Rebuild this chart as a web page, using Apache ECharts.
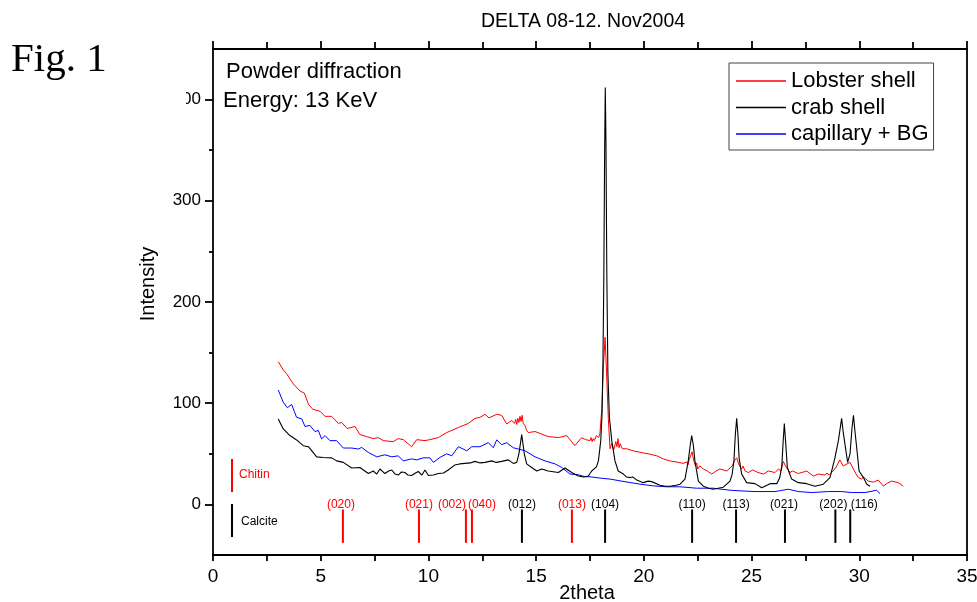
<!DOCTYPE html>
<html>
<head>
<meta charset="utf-8">
<script src="https://cdn.jsdelivr.net/npm/echarts@6/dist/echarts.min.js"></script>
<style>
html,body{margin:0;padding:0;background:#fff;}
#chart{width:977px;height:602px;}
</style>
</head>
<body>
<div id="chart"></div>
<script>
// ---------- data ----------
var seriesNames = ['Lobster shell', 'crab shell', 'capillary + BG'];

var lobster = [[3.03,141],[3.26,133],[3.42,129],[3.73,119],[4.04,112],[4.24,110],[4.43,99],[4.63,94],[4.97,92],[5.2,87],[5.51,87],[5.82,80],[5.97,81],[6.23,75],[6.59,77],[6.82,69],[7.13,67],[7.44,65],[7.67,66],[7.9,63],[8.37,62],[8.6,65],[8.83,64],[9.22,57],[9.46,64],[9.84,63],[10.07,64],[10.46,66],[10.85,71],[11.39,76],[11.85,80],[12.16,85],[12.39,86],[12.63,89],[12.81,85.5],[13.17,89],[13.4,88],[13.63,79.5],[13.87,83],[14.0,80],[14.05,84],[14.1,79],[14.15,85],[14.2,81],[14.25,87],[14.3,82],[14.35,88],[14.4,80],[14.48,78],[14.56,73],[14.64,71],[14.95,72],[15.26,69.5],[15.56,67],[16.03,66],[16.42,68],[16.8,58],[17.11,66],[17.3,64],[17.5,63],[17.55,66],[17.6,62],[17.65,65],[17.7,63],[17.8,68],[17.9,66],[17.96,70],[18.05,95],[18.12,135],[18.2,165],[18.27,130],[18.35,85],[18.43,55],[18.5,60],[18.6,54],[18.7,62],[18.75,57],[18.8,65],[18.85,56],[18.9,60],[19.0,55],[19.2,55],[19.5,53],[19.82,51.5],[20.2,50],[20.6,48],[20.9,45],[21.2,43],[21.5,42],[21.83,40.5],[22.0,42],[22.05,39],[22.1,44],[22.24,52],[22.3,45],[22.35,41],[22.4,38],[22.45,41],[22.5,35],[22.6,38],[22.76,35],[22.95,33],[23.15,30],[23.35,33],[23.53,35],[23.85,33],[24.0,36],[24.1,38],[24.2,43],[24.31,46],[24.4,40],[24.47,37],[24.54,35],[24.6,38],[24.7,33],[24.85,31.5],[25.05,34],[25.3,31.5],[25.55,30],[25.78,33],[26.09,31.5],[26.25,35],[26.35,33],[26.47,42.5],[26.6,37],[26.7,34],[26.78,31.5],[26.9,33],[27.17,30.5],[27.4,32],[27.56,33],[27.87,28],[28.1,30],[28.41,29],[28.5,31],[28.6,29],[28.72,31.5],[28.9,36],[29.1,44],[29.25,38],[29.33,36.5],[29.57,41.5],[29.7,36],[29.85,30],[29.96,26.5],[30.1,25],[30.2,27],[30.42,23],[30.65,22],[30.88,24],[31.12,18],[31.3,21],[31.5,23],[31.81,21.5],[32.04,18]];

var crab = [[3.03,84.5],[3.26,74.6],[3.57,68],[3.88,63.7],[4.19,58],[4.43,57],[4.81,47],[5.12,46.4],[5.51,46],[5.74,43],[6.05,41.5],[6.44,36],[6.82,36.5],[7.21,30.5],[7.44,33],[7.6,30],[7.75,35],[7.98,30.5],[8.15,33],[8.3,34],[8.45,30],[8.6,29],[8.75,32],[8.91,31.5],[9.05,29],[9.22,28.5],[9.4,31],[9.53,32.5],[9.7,29],[9.84,34],[10.0,28.5],[10.23,29],[10.46,30.5],[10.7,31],[10.92,34],[11.23,39],[11.45,40],[11.7,40.5],[11.95,41],[12.16,42.5],[12.4,41],[12.63,41.5],[12.94,43],[13.15,41.5],[13.4,42.5],[13.71,44],[13.94,40.5],[14.1,41.5],[14.2,50],[14.33,69],[14.45,50],[14.56,40],[14.79,36.5],[15.03,33],[15.26,35],[15.56,33],[16.03,31.5],[16.34,36],[16.65,31.5],[16.96,28],[17.2,27],[17.42,28],[17.58,33],[17.65,32.5],[17.8,37],[17.89,43],[18.0,63],[18.06,90],[18.1,140],[18.14,220],[18.18,350],[18.21,412],[18.24,360],[18.28,230],[18.33,130],[18.4,86],[18.51,63],[18.66,43],[18.81,33],[19.05,30],[19.2,27],[19.36,26.5],[19.5,27],[19.67,24],[19.97,21.5],[20.2,23],[20.36,22.5],[20.75,19],[21.0,18],[21.21,18],[21.5,19],[21.68,20],[21.91,25],[22.06,43],[22.15,58],[22.22,68],[22.3,58],[22.37,43],[22.53,23],[22.76,18],[23.0,16],[23.22,15],[23.45,16],[23.69,17],[24.0,23],[24.1,30],[24.18,43],[24.25,70],[24.31,85],[24.37,68],[24.42,46],[24.54,30],[24.77,21.5],[25.16,20.5],[25.47,16.5],[25.86,20.5],[26.17,20.5],[26.3,26],[26.4,36.5],[26.46,60],[26.52,80],[26.58,62],[26.66,36.5],[26.86,25],[27.17,21.5],[27.56,20.5],[27.94,18],[28.33,20],[28.64,26.5],[28.87,46],[29.03,63],[29.18,85],[29.25,72],[29.33,60],[29.46,41.5],[29.57,50],[29.66,75],[29.73,88],[29.8,72],[29.88,56],[29.99,33],[30.19,26.5],[30.35,20],[30.5,18]];

var capillary = [[3.03,113],[3.26,101],[3.45,95.5],[3.65,98.7],[3.88,86],[4.12,84.5],[4.27,77],[4.5,78],[4.73,72],[4.89,73],[5.04,64.7],[5.2,68],[5.43,63],[5.74,63],[6.05,55.7],[6.44,55.7],[6.75,54.7],[6.9,56.3],[7.21,51.4],[7.6,47],[7.98,49],[8.3,47],[8.6,48],[8.83,43],[9.22,45],[9.46,44],[9.76,46],[10.07,46],[10.23,41.5],[10.54,46.5],[10.85,50],[11.08,48],[11.39,57],[11.78,53],[12.01,57],[12.39,57],[12.78,61],[13.01,56],[13.17,63.7],[13.4,59],[13.63,61],[13.94,56],[14.17,54.7],[14.48,53],[14.95,47],[15.41,43],[15.88,40],[16.19,36.5],[16.57,30],[16.96,29.3],[17.27,27.3],[17.5,27.3],[17.96,26],[18.43,25],[18.89,23.3],[19.36,21.6],[19.82,20],[20.44,18.3],[21.06,17.4],[21.68,17.4],[22.45,16],[23.22,16],[24.0,14],[24.46,13.4],[25.16,12.7],[26.09,12.7],[26.7,15],[27.17,12.7],[27.79,11.7],[28.56,12.7],[29.18,12.7],[29.65,11.7],[30.27,11.7],[30.8,14],[30.96,10.7]];

// reference reflections
var chitinPos = [6.03, 9.56, 11.74, 12.02, 16.66];
var chitinLabels = ['(020)', '(021)', '(002)', '(040)', '(013)'];
var calcitePos = [14.34, 18.2, 22.24, 24.28, 26.55, 28.89, 29.58];
var calciteLabels = ['(012)', '(104)', '(110)', '(113)', '(021)', '(202)', '(116)'];

var xTicks = [0, 35, 5];
var yLabelValues = [0, 100, 200, 300, 400];
var yMinorValues = [50, 150, 250, 350];

// ---------- styling (not data) ----------
var chitinDx = [-2, 0, -14, 10, 0];
var calciteDx = [0, 0, 0, 0, -1, -2, 14];
var FONT = '"Liberation Sans", Arial, Helvetica, sans-serif';
var AX = 1.8;

function stickSeries(name, pos, labels, dx, color) {
  return {
    type: 'custom', name: name, silent: true, xAxisIndex: 0, yAxisIndex: 0, z: 3,
    data: pos.map(function (p, i) { return [p, i]; }),
    renderItem: function (params, api) {
      var x = api.value(0), i = api.value(1);
      var t = api.coord([x, -5]), b = api.coord([x, -38]), l = api.coord([x, 0]);
      return {
        type: 'group',
        children: [
          { type: 'line', shape: { x1: t[0], y1: t[1], x2: b[0], y2: b[1] }, style: { stroke: color, lineWidth: 2 } },
          { type: 'text', x: l[0] + dx[i], y: l[1], style: { text: labels[i], align: 'center', verticalAlign: 'middle', fill: color, font: '12px ' + FONT } }
        ]
      };
    }
  };
}

var chart = echarts.init(document.getElementById('chart'), null, { renderer: 'canvas' });
var axisLineStyle = { color: '#000', width: AX };

chart.setOption({
  animation: false,
  backgroundColor: '#fff',
  textStyle: { fontFamily: FONT },
  title: {
    text: 'DELTA 08-12. Nov2004', left: 481, top: 12, padding: 0,
    textStyle: { fontSize: 19.5, fontWeight: 'normal', color: '#000', fontFamily: FONT }
  },
  grid: { left: 213, right: 10, top: 49, bottom: 47, containLabel: false, outerBoundsMode: 'none' },
  legend: {
    data: seriesNames, orient: 'vertical', left: 729, top: 63,
    padding: [7, 5, 5, 7], itemGap: 4.5, itemWidth: 50, itemHeight: 1.5, icon: 'rect',
    borderColor: '#444', borderWidth: 1, backgroundColor: '#fff',
    textStyle: { fontSize: 22, color: '#000', fontFamily: FONT, lineHeight: 21 }
  },
  xAxis: [
    {
      type: 'value', position: 'bottom', min: xTicks[0], max: xTicks[1], interval: xTicks[2],
      axisLine: { show: true, onZero: false, lineStyle: axisLineStyle },
      axisTick: { show: true, inside: false, length: 6, lineStyle: axisLineStyle },
      minorTick: { show: true, splitNumber: 2, length: 6, lineStyle: axisLineStyle },
      splitLine: { show: false }, minorSplitLine: { show: false },
      axisLabel: { fontSize: 19, color: '#000', margin: 12, fontFamily: FONT }
    },
    {
      type: 'value', position: 'top', min: xTicks[0], max: xTicks[1], interval: xTicks[2],
      axisLine: { show: true, onZero: false, lineStyle: axisLineStyle },
      axisTick: { show: true, inside: false, length: 8, lineStyle: axisLineStyle },
      minorTick: { show: true, splitNumber: 2, length: 7, lineStyle: axisLineStyle },
      splitLine: { show: false }, axisLabel: { show: false }
    }
  ],
  yAxis: [
    {
      type: 'value', position: 'left', min: -50, max: 450,
      axisLine: { show: true, onZero: false, lineStyle: axisLineStyle },
      axisTick: { show: true, inside: false, length: 8, customValues: yLabelValues, lineStyle: axisLineStyle },
      axisLabel: { customValues: yLabelValues, fontSize: 17, color: '#000', margin: 12, fontFamily: FONT },
      splitLine: { show: false }
    },
    {
      type: 'value', position: 'left', min: -50, max: 450,
      axisLine: { show: false, onZero: false },
      axisTick: { show: true, inside: false, length: 4, customValues: yMinorValues, lineStyle: axisLineStyle },
      axisLabel: { show: false }, splitLine: { show: false }
    },
    {
      type: 'value', position: 'right', min: -50, max: 450,
      axisLine: { show: true, onZero: false, lineStyle: axisLineStyle },
      axisTick: { show: false }, axisLabel: { show: false }, splitLine: { show: false }
    }
  ],
  graphic: [
    { type: 'text', left: 11, top: 40, z: 100, style: { text: 'Fig. 1', font: '41px "Liberation Serif", "Times New Roman", serif', fill: '#000' } },
    { type: 'text', x: 226, y: 72, z: 100, style: { text: 'Powder diffraction', font: '22px ' + FONT, fill: '#000', verticalAlign: 'middle' } },
    { type: 'text', x: 223, y: 101, z: 100, style: { text: 'Energy: 13 KeV', font: '22px ' + FONT, fill: '#000', verticalAlign: 'middle' } },
    { type: 'text', x: 148, y: 284, rotation: Math.PI / 2, z: 100, style: { text: 'Intensity', font: '20px ' + FONT, fill: '#000', align: 'center', verticalAlign: 'middle' } },
    { type: 'text', x: 587, y: 593, z: 100, style: { text: '2theta', font: '20px ' + FONT, fill: '#000', align: 'center', verticalAlign: 'middle' } },
    { type: 'rect', z: 100, shape: { x: 130, y: 88, width: 56, height: 24 }, style: { fill: '#fff' } },
    { type: 'line', z: 100, shape: { x1: 232, y1: 459, x2: 232, y2: 492 }, style: { stroke: '#ff0000', lineWidth: 2 } },
    { type: 'text', x: 239, y: 475, z: 100, style: { text: 'Chitin', font: '12px ' + FONT, fill: '#ff0000', verticalAlign: 'middle' } },
    { type: 'line', z: 100, shape: { x1: 232, y1: 504, x2: 232, y2: 537 }, style: { stroke: '#000', lineWidth: 2 } },
    { type: 'text', x: 241, y: 522, z: 100, style: { text: 'Calcite', font: '12px ' + FONT, fill: '#000', verticalAlign: 'middle' } }
  ],
  series: [
    { name: seriesNames[0], type: 'line', data: lobster, xAxisIndex: 0, yAxisIndex: 0, symbol: 'none', color: '#ff0000', lineStyle: { width: 1, color: '#ff0000' }, z: 2 },
    { name: seriesNames[1], type: 'line', data: crab, xAxisIndex: 0, yAxisIndex: 0, symbol: 'none', color: '#000000', lineStyle: { width: 1.1, color: '#000000' }, z: 3 },
    { name: seriesNames[2], type: 'line', data: capillary, xAxisIndex: 0, yAxisIndex: 0, symbol: 'none', color: '#0000ff', lineStyle: { width: 1, color: '#0000ff' }, z: 1 },
    stickSeries('chitinRefs', chitinPos, chitinLabels, chitinDx, '#ff0000'),
    stickSeries('calciteRefs', calcitePos, calciteLabels, calciteDx, '#000000')
  ]
});
</script>
</body>
</html>
